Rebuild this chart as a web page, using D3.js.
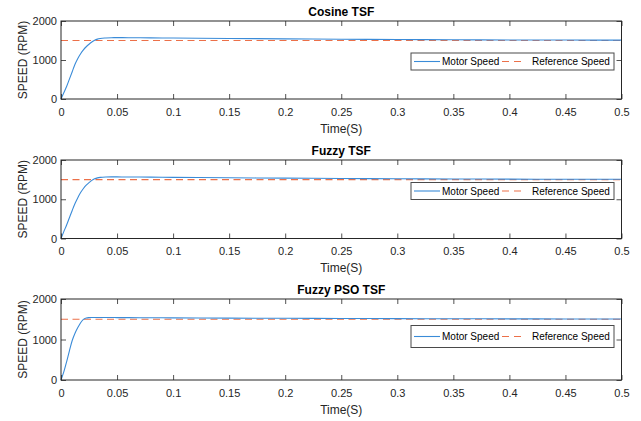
<!DOCTYPE html>
<html>
<head>
<meta charset="utf-8">
<script src="https://cdn.jsdelivr.net/npm/d3@7"></script>
<style>
  html, body { margin: 0; padding: 0; background: #fff; }
  svg { display: block; font-family: "Liberation Sans", Arial, Helvetica, sans-serif; }
</style>
</head>
<body>
<svg id="chart" width="641" height="421"></svg>
<script>
// Simulation time base (s)
const time = [0, 0.0025, 0.005, 0.0075, 0.01, 0.0125, 0.015, 0.0175, 0.02, 0.0225,
  0.025, 0.0275, 0.03, 0.0325, 0.035, 0.04, 0.045, 0.05, 0.06, 0.08,
  0.1, 0.15, 0.2, 0.25, 0.3, 0.35, 0.4, 0.45, 0.5];

// Motor speed (RPM) for each torque sharing function
const cosineSpeed = [0, 160, 320, 510, 700, 890, 1040, 1160, 1260, 1340,
  1405, 1460, 1505, 1535, 1552, 1566, 1572, 1573, 1572, 1568,
  1563, 1552, 1542, 1533, 1525, 1519, 1514, 1511, 1509];
const fuzzySpeed = [0, 175, 345, 530, 715, 890, 1040, 1170, 1275, 1360,
  1425, 1480, 1520, 1545, 1558, 1567, 1569, 1569, 1567, 1563,
  1558, 1548, 1538, 1530, 1523, 1517, 1513, 1510, 1508];
const fuzzyPsoSpeed = [0, 200, 450, 720, 975, 1155, 1295, 1415, 1497, 1530,
  1540, 1543, 1544, 1544, 1544, 1543, 1542, 1541, 1540, 1537,
  1534, 1528, 1523, 1519, 1515, 1512, 1510, 1508, 1507];

// Reference speed (RPM)
const referenceSpeed = 1500;

const panelTitles = ["Cosine TSF", "Fuzzy TSF", "Fuzzy PSO TSF"];
const panelSpeeds = [cosineSpeed, fuzzySpeed, fuzzyPsoSpeed];

const xTicks = [0, 0.05, 0.1, 0.15, 0.2, 0.25, 0.3, 0.35, 0.4, 0.45, 0.5];
const yTicks = [0, 1000, 2000];
const legendLabels = ["Motor Speed", "Reference Speed"];

// Layout of the three stacked axes
const layout = [
  { top: 21, bottom: 99, legendTop: 53, legendH: 17 },
  { top: 160, bottom: 238.5, legendTop: 182.5, legendH: 17 },
  { top: 299, bottom: 380, legendTop: 325.5, legendH: 22 }
];
const left = 61, right = 621.5;
const axisColor = "#262626";
const blue = "#3a8bd8";
const orange = "#ec7049";

const svg = d3.select("#chart");

const x = d3.scaleLinear().domain([0, 0.5]).range([left, right]);

panelTitles.forEach((title, i) => {
  const L = layout[i];
  const y = d3.scaleLinear().domain([0, 2000]).range([L.bottom, L.top]);
  const g = svg.append("g");

  // reference speed (dashed)
  g.append("line")
    .attr("x1", x(0)).attr("x2", x(0.5))
    .attr("y1", y(referenceSpeed)).attr("y2", y(referenceSpeed))
    .attr("stroke", orange).attr("stroke-width", 1.1)
    .attr("stroke-dasharray", "7,4.5");

  // motor speed
  const pts = time.map((t, k) => [t, panelSpeeds[i][k]]);
  g.append("path")
    .datum(pts)
    .attr("fill", "none")
    .attr("stroke", blue)
    .attr("stroke-width", 1.1)
    .attr("d", d3.line().x(d => x(d[0])).y(d => y(d[1])).curve(d3.curveMonotoneX));

  // axes with inward ticks on all four sides
  const styleAxis = sel => {
    sel.select(".domain").remove();
    sel.selectAll(".tick line").attr("stroke", axisColor).attr("stroke-width", 0.8);
    sel.selectAll(".tick text").attr("fill", axisColor).style("font-size", "11px");
  };
  g.append("g").attr("transform", `translate(0,${L.bottom})`)
    .call(d3.axisBottom(x).tickValues(xTicks).tickFormat(d => String(d)).tickSize(-5).tickPadding(9))
    .call(styleAxis);
  g.append("g").attr("transform", `translate(0,${L.top})`)
    .call(d3.axisTop(x).tickValues(xTicks).tickFormat("").tickSize(-5))
    .call(styleAxis);
  g.append("g").attr("transform", `translate(${left},0)`)
    .call(d3.axisLeft(y).tickValues(yTicks).tickFormat(d3.format("d")).tickSize(-5).tickPadding(4))
    .call(styleAxis);
  g.append("g").attr("transform", `translate(${right},0)`)
    .call(d3.axisRight(y).tickValues(yTicks).tickFormat("").tickSize(-5))
    .call(styleAxis);

  // box
  g.append("rect")
    .attr("x", left).attr("y", L.top)
    .attr("width", right - left).attr("height", L.bottom - L.top)
    .attr("fill", "none").attr("stroke", axisColor).attr("stroke-width", 1);

  // title
  g.append("text")
    .attr("x", (left + right) / 2).attr("y", L.top - 5)
    .attr("text-anchor", "middle")
    .attr("fill", "#000")
    .style("font-size", "12px").style("font-weight", "bold")
    .text(title);

  // x label
  g.append("text")
    .attr("x", (left + right) / 2).attr("y", L.bottom + 33.5)
    .attr("text-anchor", "middle")
    .attr("fill", axisColor)
    .style("font-size", "12px")
    .text("Time(S)");

  // y label
  g.append("text")
    .attr("transform", `translate(27,${(L.top + L.bottom) / 2}) rotate(-90)`)
    .attr("text-anchor", "middle")
    .attr("fill", axisColor)
    .style("font-size", "12px")
    .text("SPEED (RPM)");

  // legend
  const lx = 411, lw = 203;
  const lg = g.append("g");
  lg.append("rect")
    .attr("x", lx).attr("y", L.legendTop)
    .attr("width", lw).attr("height", L.legendH)
    .attr("fill", "#fff").attr("stroke", "#4a4a4a").attr("stroke-width", 1);
  const cy = L.legendTop + L.legendH / 2;
  lg.append("line")
    .attr("x1", lx + 3).attr("x2", lx + 29)
    .attr("y1", cy).attr("y2", cy)
    .attr("stroke", blue).attr("stroke-width", 1.1);
  lg.append("text")
    .attr("x", lx + 31).attr("y", cy).attr("dy", "0.35em")
    .attr("fill", "#000").style("font-size", "10px")
    .text(legendLabels[0]);
  lg.append("line")
    .attr("x1", lx + 91).attr("x2", lx + 111)
    .attr("y1", cy).attr("y2", cy)
    .attr("stroke", orange).attr("stroke-width", 1.1)
    .attr("stroke-dasharray", "7,5");
  lg.append("text")
    .attr("x", lx + 121).attr("y", cy).attr("dy", "0.35em")
    .attr("fill", "#000").style("font-size", "10px")
    .text(legendLabels[1]);
});
</script>
</body>
</html>
